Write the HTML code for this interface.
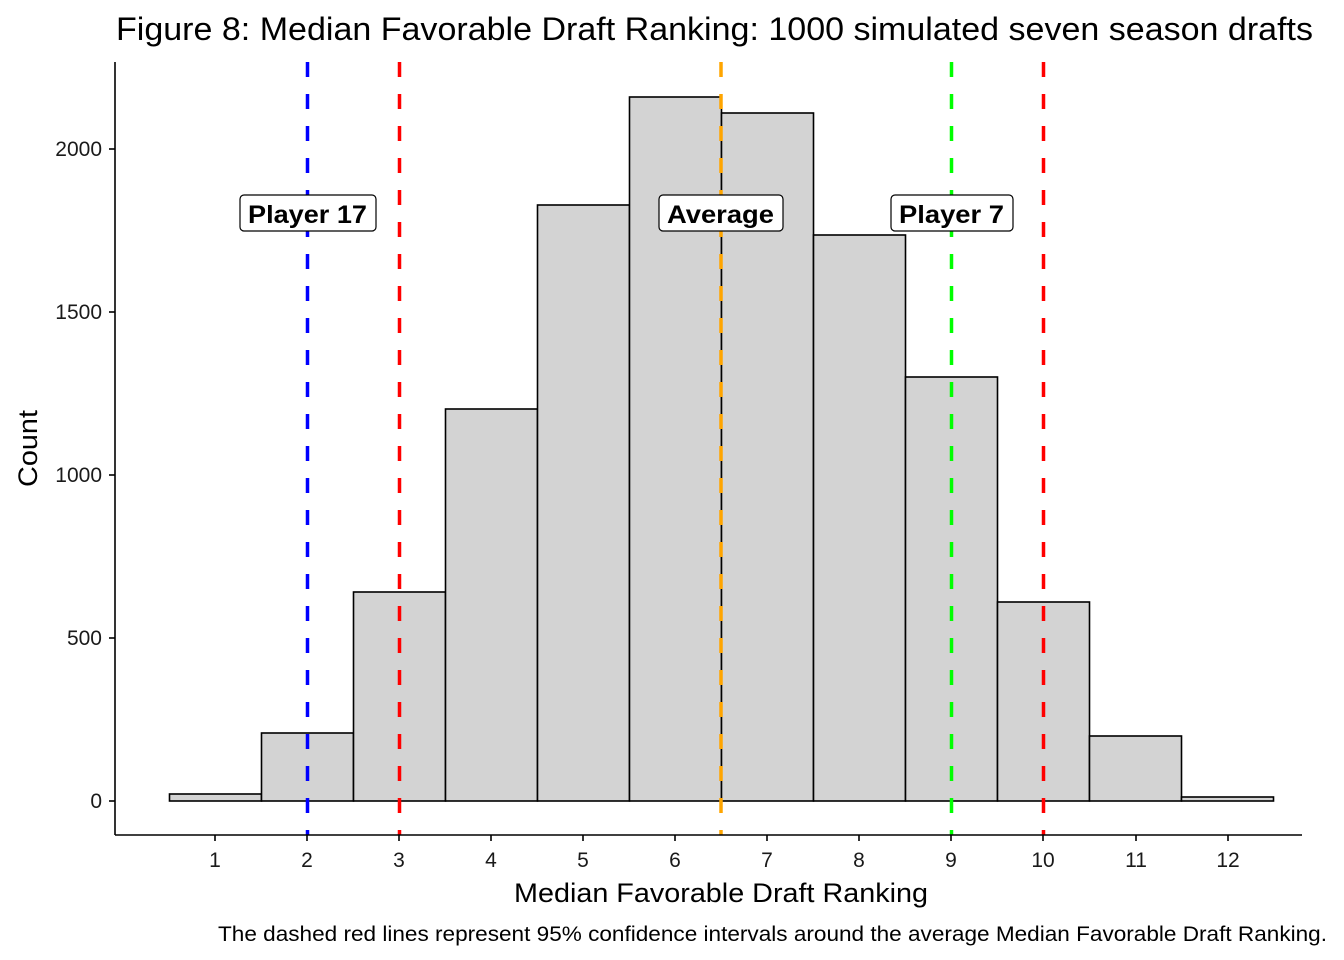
<!DOCTYPE html>
<html><head><style>body{margin:0;background:#fff}svg{display:block}</style></head><body>
<svg width="1344" height="960" xmlns="http://www.w3.org/2000/svg" font-family="Liberation Sans, sans-serif">
<rect width="1344" height="960" fill="#fff"/>
<text x="116" y="40" font-size="32" textLength="1197" lengthAdjust="spacingAndGlyphs">Figure 8: Median Favorable Draft Ranking: 1000 simulated seven season drafts</text>
<g fill="#d3d3d3" stroke="#000" stroke-width="1.6">
<rect x="169.5" y="794" width="92" height="7"/>
<rect x="261.5" y="733" width="92" height="68"/>
<rect x="353.5" y="592" width="92" height="209"/>
<rect x="445.5" y="409" width="92" height="392"/>
<rect x="537.5" y="205" width="92" height="596"/>
<rect x="629.5" y="97" width="92" height="704"/>
<rect x="721.5" y="113" width="92" height="688"/>
<rect x="813.5" y="235" width="92" height="566"/>
<rect x="905.5" y="377" width="92" height="424"/>
<rect x="997.5" y="602" width="92" height="199"/>
<rect x="1089.5" y="736" width="92" height="65"/>
<rect x="1181.5" y="797" width="92" height="4"/>
</g>
<g stroke-width="3.5" stroke-dasharray="15 17">
<line x1="307.5" y1="62" x2="307.5" y2="835" stroke="#0000ff"/>
<line x1="399.5" y1="62" x2="399.5" y2="835" stroke="#ff0000"/>
<line x1="721" y1="62" x2="721" y2="835" stroke="#ffa500"/>
<line x1="951.5" y1="62" x2="951.5" y2="835" stroke="#00ff00"/>
<line x1="1043.5" y1="62" x2="1043.5" y2="835" stroke="#ff0000"/>
</g>
<g font-size="25" font-weight="bold">
<rect x="240" y="195" width="136" height="36" rx="4" fill="#fff" stroke="#000" stroke-width="1.2"/>
<text x="248" y="223" textLength="119" lengthAdjust="spacingAndGlyphs">Player 17</text>
<rect x="659" y="195" width="124" height="36" rx="4" fill="#fff" stroke="#000" stroke-width="1.2"/>
<text x="667" y="223" textLength="107" lengthAdjust="spacingAndGlyphs">Average</text>
<rect x="891" y="195" width="122" height="36" rx="4" fill="#fff" stroke="#000" stroke-width="1.2"/>
<text x="899" y="223" textLength="105" lengthAdjust="spacingAndGlyphs">Player 7</text>
</g>
<g stroke="#000" stroke-width="1.6">
<line x1="115" y1="62" x2="115" y2="835"/>
<line x1="115" y1="835" x2="1302" y2="835"/>
<line x1="109" y1="801" x2="115" y2="801"/>
<line x1="109" y1="638" x2="115" y2="638"/>
<line x1="109" y1="475" x2="115" y2="475"/>
<line x1="109" y1="312" x2="115" y2="312"/>
<line x1="109" y1="149" x2="115" y2="149"/>
<line x1="215" y1="835" x2="215" y2="841"/><line x1="307" y1="835" x2="307" y2="841"/><line x1="399" y1="835" x2="399" y2="841"/><line x1="491" y1="835" x2="491" y2="841"/><line x1="583" y1="835" x2="583" y2="841"/><line x1="675" y1="835" x2="675" y2="841"/><line x1="767" y1="835" x2="767" y2="841"/><line x1="859" y1="835" x2="859" y2="841"/><line x1="951" y1="835" x2="951" y2="841"/><line x1="1043" y1="835" x2="1043" y2="841"/><line x1="1136" y1="835" x2="1136" y2="841"/><line x1="1228" y1="835" x2="1228" y2="841"/>
</g>
<g font-size="21" fill="#1a1a1a" text-anchor="end">
<text x="102" y="808">0</text><text x="102" y="645">500</text><text x="102" y="482">1000</text><text x="102" y="319">1500</text><text x="102" y="156">2000</text>
</g>
<g font-size="21" fill="#1a1a1a" text-anchor="middle">
<text x="215" y="867">1</text><text x="307" y="867">2</text><text x="399" y="867">3</text><text x="491" y="867">4</text><text x="583" y="867">5</text><text x="675" y="867">6</text><text x="767" y="867">7</text><text x="859" y="867">8</text><text x="951" y="867">9</text><text x="1043" y="867">10</text><text x="1136" y="867">11</text><text x="1228" y="867">12</text>
</g>
<text x="514" y="902" font-size="27" textLength="414" lengthAdjust="spacingAndGlyphs">Median Favorable Draft Ranking</text>
<text x="0" y="0" font-size="27" textLength="77" lengthAdjust="spacingAndGlyphs" transform="translate(37 487) rotate(-90)">Count</text>
<text x="218" y="941" font-size="21" textLength="1109" lengthAdjust="spacingAndGlyphs">The dashed red lines represent 95% confidence intervals around the average Median Favorable Draft Ranking.</text>
</svg>
</body></html>
